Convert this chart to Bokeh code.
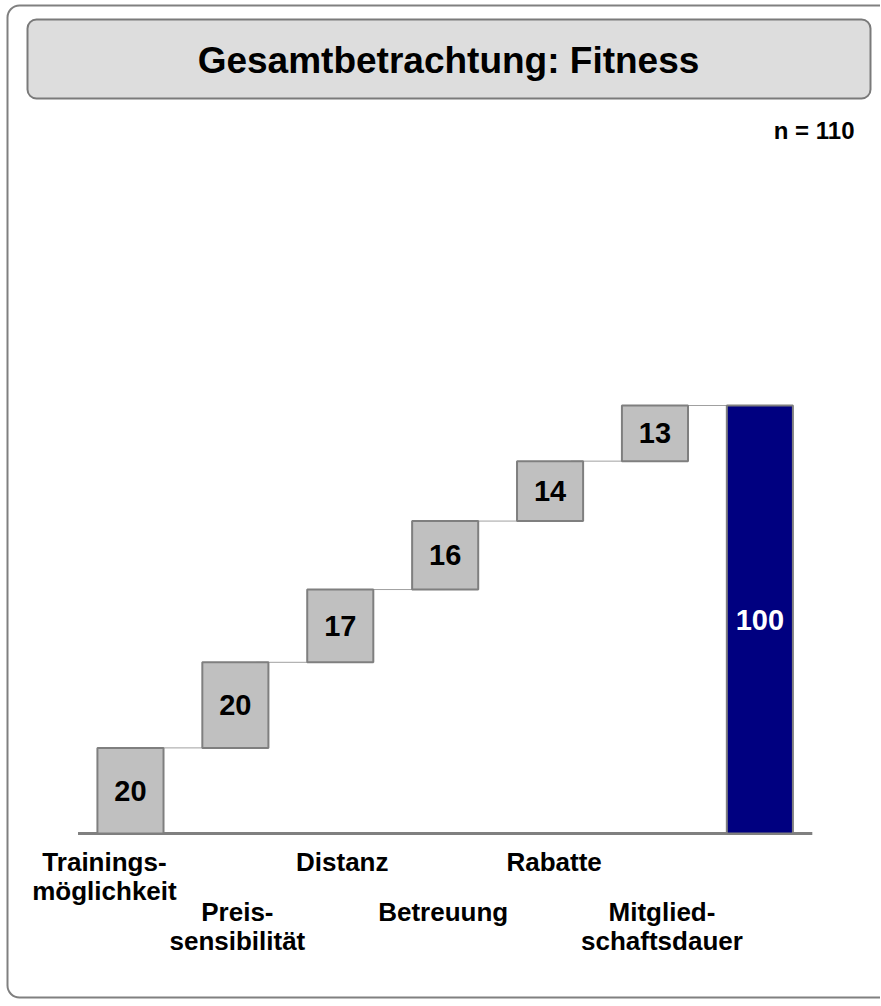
from bokeh.plotting import figure
from bokeh.models import Range1d, BoxAnnotation, Label, ColumnDataSource
from bokeh.core.properties import value
from bokeh.embed import file_html
from bokeh.resources import INLINE

# ---------------- data ----------------
TITLE = "Gesamtbetrachtung: Fitness"
SAMPLE = "n = 110"
categories = ["Trainings-\nmöglichkeit", "Preis-\nsensibilität", "Distanz",
              "Betreuung", "Rabatte", "Mitglied-\nschaftsdauer"]
values = [20, 20, 17, 16, 14, 13]
total_value = 100

# ---------------- layout / style ----------------
W, H = 880, 1000
FONT = "Liberation Sans"
BAR_W = 0.63
LABEL_DX = [-26, 2, 2, -2, 4, 7]     # small horizontal nudges of the category labels (px)
ROW_OFFSETS = [29, 79]              # vertical offset of first label line per row (px)
LINE_STEP = 29

p = figure(width=W, height=H, output_backend="svg", toolbar_location=None,
           x_range=Range1d(-1.239, 7.150), y_range=Range1d(-39.02, 194.63),
           min_border=0, x_axis_type=None, y_axis_type=None,
           outline_line_color=None, background_fill_color="white",
           border_fill_color="white")

# decorations: outer frame and title box (screen units measured from bottom)
outer = BoxAnnotation(left=7, right=W + 40, top=H - 5, bottom=H - 997,
                      left_units="screen", right_units="screen",
                      top_units="screen", bottom_units="screen",
                      fill_alpha=0, line_color="#808080", line_alpha=1, line_width=2,
                      border_radius=12, level="underlay")
title_box = BoxAnnotation(left=27, right=870, top=H - 19, bottom=H - 98,
                          left_units="screen", right_units="screen",
                          top_units="screen", bottom_units="screen",
                          fill_color="#dddddd", fill_alpha=1,
                          line_color="#7a7a7a", line_alpha=1, line_width=2,
                          border_radius=9, level="underlay")
p.add_layout(outer)
p.add_layout(title_box)

# ---------------- waterfall geometry from data ----------------
n = len(values)
bottoms, tops = [], []
acc = 0
for v in values:
    bottoms.append(acc)
    acc += v
    tops.append(acc)

xs = list(range(n))
bars = ColumnDataSource(dict(x=xs, bottom=bottoms, top=tops,
                             mid=[(b + t) / 2 for b, t in zip(bottoms, tops)],
                             txt=[str(v) for v in values]))

# connectors (level of each bar's top to next bar)
p.segment(x0=[i + 0.2 for i in xs], x1=[i + 1 for i in xs], y0=tops, y1=tops,
          line_color="#a0a0a0", line_width=1)

# baseline
p.segment(x0=[-0.5], x1=[n + 0.5], y0=[0], y1=[0], line_color="#808080", line_width=3)

p.vbar(x="x", bottom="bottom", top="top", width=BAR_W, source=bars,
       fill_color="#c0c0c0", line_color="#7f7f7f", line_width=2)
p.vbar(x=[n], bottom=[0], top=[total_value], width=BAR_W,
       fill_color="#000080", line_color="#7f7f7f", line_width=2)

p.text(x="x", y="mid", text="txt", source=bars, text_align="center",
       text_baseline="middle", text_font=value(FONT), text_font_style="bold",
       text_font_size="29px", text_color="black")
p.text(x=[n], y=[total_value / 2], text=[str(total_value)], text_align="center",
       text_baseline="middle", text_font=value(FONT), text_font_style="bold",
       text_font_size="29px", text_color="white")

# category labels, staggered in two rows
for i, cat in enumerate(categories):
    for j, line in enumerate(cat.split("\n")):
        p.text(x=[i], y=[0], text=[line], x_offset=LABEL_DX[i],
               y_offset=ROW_OFFSETS[i % 2] + j * LINE_STEP,
               text_align="center", text_baseline="middle",
               text_font=value(FONT), text_font_style="bold",
               text_font_size="26px", text_color="black")

# title and sample size
p.add_layout(Label(x=448, y=H - 60, x_units="screen", y_units="screen", text=TITLE,
                   text_align="center", text_baseline="middle",
                   text_font=FONT, text_font_style="bold", text_font_size="37px",
                   text_color="black"))
p.add_layout(Label(x=854, y=H - 130, x_units="screen", y_units="screen", text=SAMPLE,
                   text_align="right", text_baseline="middle",
                   text_font=FONT, text_font_style="bold", text_font_size="24px",
                   text_color="black"))

open("out.html", "w").write(file_html(p, INLINE))
